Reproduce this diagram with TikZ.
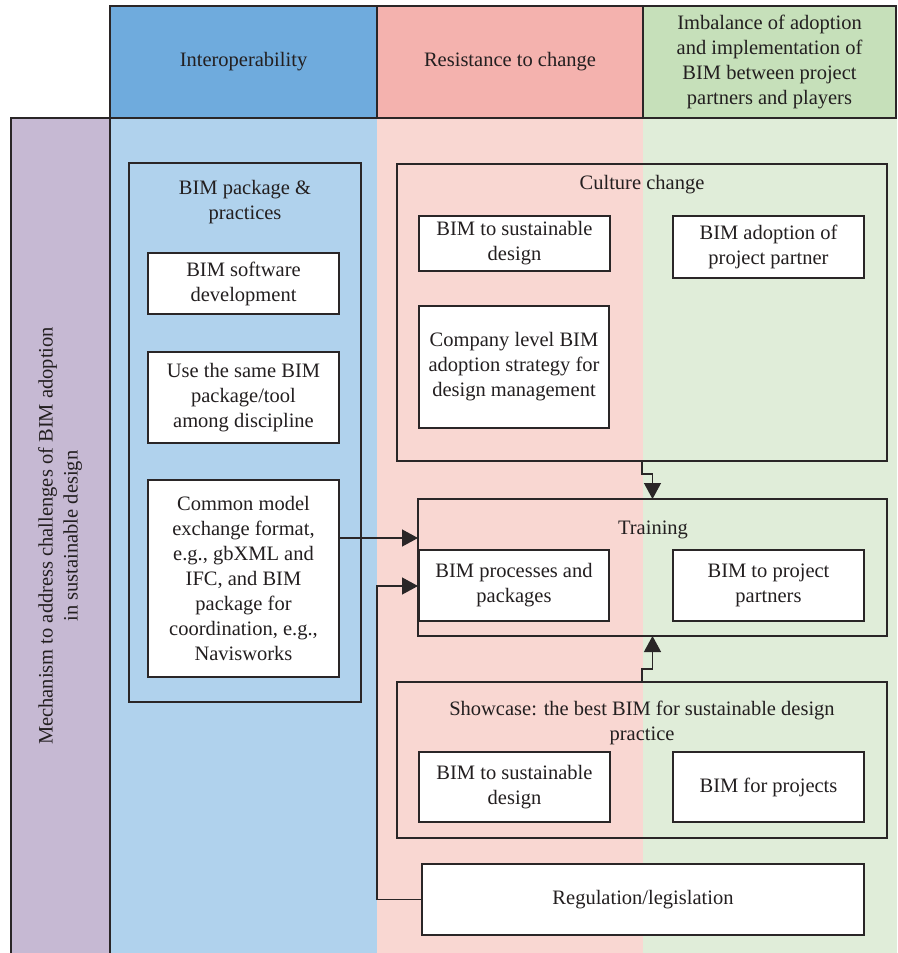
\documentclass[tikz,border=0pt]{standalone}
\usepackage{fontspec}
\setmainfont{Liberation Serif}
\usetikzlibrary{arrows.meta}
\definecolor{hblue}{HTML}{6FABDD}
\definecolor{hpink}{HTML}{F4B2AE}
\definecolor{hgreen}{HTML}{C6E0BA}
\definecolor{lblue}{HTML}{B0D2ED}
\definecolor{lpink}{HTML}{F9D7D2}
\definecolor{lgreen}{HTML}{E0EDD9}
\definecolor{purp}{HTML}{C6B9D3}
\definecolor{linec}{HTML}{2A2627}
\definecolor{txt}{HTML}{231F20}
\begin{document}
\begin{tikzpicture}[x=1pt,y=-1pt,
  font=\fontsize{20.5pt}{25pt}\selectfont,
  ln/.style={draw=linec,line width=1.3pt},
  wbox/.style={ln,fill=white,align=center,inner sep=0pt,outer sep=0pt,text=txt},
  obox/.style={ln,inner sep=0pt,outer sep=0pt},
  hdr/.style={ln,align=center,inner sep=0pt,outer sep=0pt,text=txt,minimum height=112pt},
  ttl/.style={align=center,inner sep=0pt,text=txt},
  arr/.style={ln,-{Triangle[width=17pt,length=16pt]}}]

\fill[white] (0,0) rectangle (897,953);
\useasboundingbox (0,0) rectangle (897,953);

% column backgrounds
\fill[lblue] (110,118) rectangle (377,953);
\fill[lpink] (377,118) rectangle (643,953);
\fill[lgreen] (643,118) rectangle (897,953);
\fill[purp] (11,118) rectangle (110,953);
\draw[ln] (11,953) -- (11,118) -- (110,118) -- (110,953);

% headers
\node[hdr,fill=hblue,minimum width=267pt] (hint) at (243.5,62) {Interoperability};
\node[hdr,fill=hpink,minimum width=266pt] (hres) at (510,62) {Resistance to change};
\node[hdr,fill=hgreen,minimum width=253pt] (himb) at (769.5,62) {Imbalance of adoption\\and implementation of\\BIM between project\\partners and players};

% vertical label
\node[ttl,rotate=90] (mech) at (60,536) {Mechanism to address challenges of BIM adoption\\in sustainable design};

% BIM package & practices
\node[obox,minimum width=232pt,minimum height=539pt] (pkg) at (245,432.5) {};
\node[ttl] (pkgt) at (245,202) {BIM package \&\\practices};
\node[wbox,minimum width=191pt,minimum height=61pt] (sw) at (243.5,283.5) {BIM software\\development};
\node[wbox,minimum width=191pt,minimum height=91pt] (same) at (243.5,397.5) {Use the same BIM\\package/tool\\among discipline};
\node[wbox,minimum width=191pt,minimum height=197pt] (common) at (243.5,578.5) {Common model\\exchange format,\\e.g., gbXML and\\IFC, and BIM\\package for\\coordination, e.g.,\\Navisworks};

% Culture change
\node[obox,minimum width=490pt,minimum height=297pt] (cult) at (642,312.5) {};
\node[ttl] (cultt) at (642,185) {Culture change};
\node[wbox,minimum width=191pt,minimum height=55pt] (c1) at (514.5,243.5) {BIM to sustainable\\design};
\node[wbox,minimum width=191pt,minimum height=62pt] (c2) at (768.5,247) {BIM adoption of\\project partner};
\node[wbox,minimum width=190pt,minimum height=122pt] (c3) at (514,367) {Company level BIM\\adoption strategy for\\design management};

% Training
\node[obox,minimum width=469pt,minimum height=137pt] (train) at (652.5,567.5) {};
\node[ttl] (traint) at (653,530) {Training};
\node[wbox,minimum width=190pt,minimum height=71pt] (t1) at (514,585.5) {BIM processes and\\packages};
\node[wbox,minimum width=191pt,minimum height=71pt] (t2) at (768.5,585.5) {BIM to project\\partners};

% Showcase
\node[obox,minimum width=490pt,minimum height=156pt] (show) at (642,760) {};
\node[ttl] (showt) at (642,723) {Showcase: the best BIM for sustainable design\\practice};
\node[wbox,minimum width=191pt,minimum height=70pt] (s1) at (514.5,787) {BIM to sustainable\\design};
\node[wbox,minimum width=191pt,minimum height=70pt] (s2) at (768.5,787) {BIM for projects};

% Regulation
\node[wbox,minimum width=442pt,minimum height=71pt] (reg) at (643,899.5) {Regulation/legislation};

% connectors
\draw[arr] (cult.south) -- ++(0,13) -| (train.north);
\draw[arr] (show.north) -- ++(0,-13) -| (train.south);
\coordinate (cx) at ([yshift=40.5pt]common.east);
\draw[arr] (cx) -- (cx -| train.west);
\draw[arr] (reg.west) -- (reg.west -| hres.west) |- ([yshift=-18.5pt]train.west);
\end{tikzpicture}
\end{document}
